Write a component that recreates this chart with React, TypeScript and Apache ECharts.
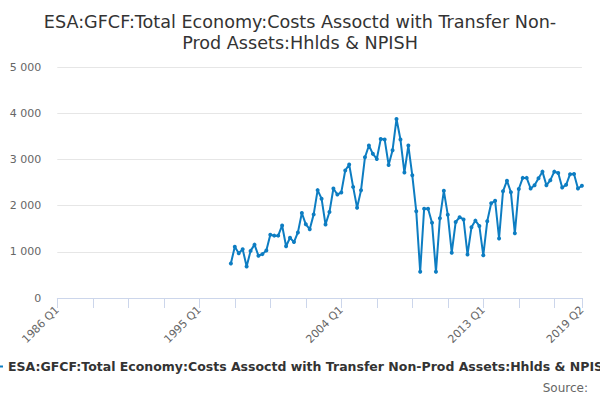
import React, { useEffect, useRef } from "react";
import * as echarts from "echarts";

const TITLE = "ESA:GFCF:Total Economy:Costs Assoctd with Transfer Non-\nProd Assets:Hhlds & NPISH";
const SERIES_NAME = "ESA:GFCF:Total Economy:Costs Assoctd with Transfer Non-Prod Assets:Hhlds & NPISH";

const FIRST_YEAR = 1986;
const LAST_LABEL = "2019 Q2";
const DATA_START = "1997 Q1";

const values: number[] = [
  745, 1110, 970, 1055, 680, 1020, 1155, 915, 950, 1030,
  1370, 1350, 1350, 1570, 1120, 1305, 1210, 1420, 1840, 1595,
  1490, 1810, 2335, 2150, 1590, 1860, 2370, 2240, 2285, 2760,
  2890, 2405, 1955, 2330, 3045, 3300, 3120, 3010, 3440, 3430,
  2880, 3200, 3875, 3430, 2715, 3300, 2655, 1880, 570, 1930,
  1930, 1630, 570, 1725, 2320, 1800, 980, 1645, 1750, 1700,
  940, 1530, 1675, 1560, 925, 1660, 2050, 2105, 1290, 2310,
  2540, 2290, 1400, 2360, 2600, 2600, 2370, 2440, 2590, 2735,
  2440, 2550, 2735, 2705, 2390, 2450, 2680, 2685, 2370, 2430,
];

const yTicks = [0, 1000, 2000, 3000, 4000, 5000];

function buildCategories(): string[] {
  const cats: string[] = [];
  let y = FIRST_YEAR;
  let q = 1;
  while (true) {
    const label = `${y} Q${q}`;
    cats.push(label);
    if (label === LAST_LABEL) break;
    q++;
    if (q > 4) { q = 1; y++; }
  }
  return cats;
}

const categories = buildCategories();

export default function App() {
  const ref = useRef<HTMLDivElement>(null);
  useEffect(() => {
    if (!ref.current) return;
    const chart = echarts.init(ref.current, null, { renderer: "svg" });
    const startIdx = categories.indexOf(DATA_START);
    const seriesData: (number | null)[] = categories.map((_, i) =>
      i >= startIdx && i - startIdx < values.length ? values[i - startIdx] : null
    );
    const lastIdx = categories.length - 1;
    const font = "DejaVu Sans";
    chart.setOption({
      animation: false,
      color: ["#0d7dc2"],
      title: {
        text: TITLE,
        left: "center",
        top: 6,
        textStyle: {
          fontFamily: font,
          fontSize: 17.6,
          fontWeight: "normal",
          color: "#333333",
          lineHeight: 21,
        },
      },
      grid: { left: 57.3, right: 18.1, top: 67, bottom: 102, containLabel: false },
      legend: {
        left: -22,
        bottom: 27,
        padding: 0,
        itemWidth: 25,
        itemHeight: 12,
        itemGap: 5,
        textStyle: { fontFamily: font, fontSize: 12.5, fontWeight: "bold", color: "#333333" },
        data: [{ name: SERIES_NAME, icon: "path://M0,5L25,5L25,7L0,7Z" }],
      },
      graphic: [
        {
          type: "text",
          right: 12,
          top: 382,
          style: { text: "Source:", font: `12px "${font}"`, fill: "#666666" },
        },
      ],
      xAxis: {
        type: "category",
        data: categories,
        boundaryGap: false,
        axisLine: { lineStyle: { color: "#ccd6eb" } },
        axisTick: {
          length: 10,
          lineStyle: { color: "#ccd6eb" },
          interval: (i: number) => i % 9 === 0 || i === lastIdx,
        },
        axisLabel: {
          rotate: 45,
          margin: 10,
          fontFamily: font,
          fontSize: 11,
          color: "#666666",
          interval: (i: number) => i % 36 === 0 || i === lastIdx,
        },
        splitLine: { show: false },
      },
      yAxis: {
        type: "value",
        min: yTicks[0],
        max: yTicks[yTicks.length - 1],
        interval: 1000,
        axisLine: { show: false },
        axisTick: { show: false },
        axisLabel: {
          margin: 16,
          fontFamily: font,
          fontSize: 11,
          color: "#666666",
          formatter: (v: number) => String(v).replace(/\B(?=(\d{3})+(?!\d))/g, " "),
        },
        splitLine: { lineStyle: { color: "#e6e6e6" } },
      },
      series: [
        {
          name: SERIES_NAME,
          type: "line",
          data: seriesData,
          symbol: "circle",
          symbolSize: 4,
          showSymbol: true,
          showAllSymbol: true,
          lineStyle: { width: 2 },
          itemStyle: { color: "#0d7dc2" },
        },
      ],
    });
    return () => chart.dispose();
  }, []);
  return <div ref={ref} style={{ width: 600, height: 400, position: "absolute", left: 0, top: 0 }} />;
}
